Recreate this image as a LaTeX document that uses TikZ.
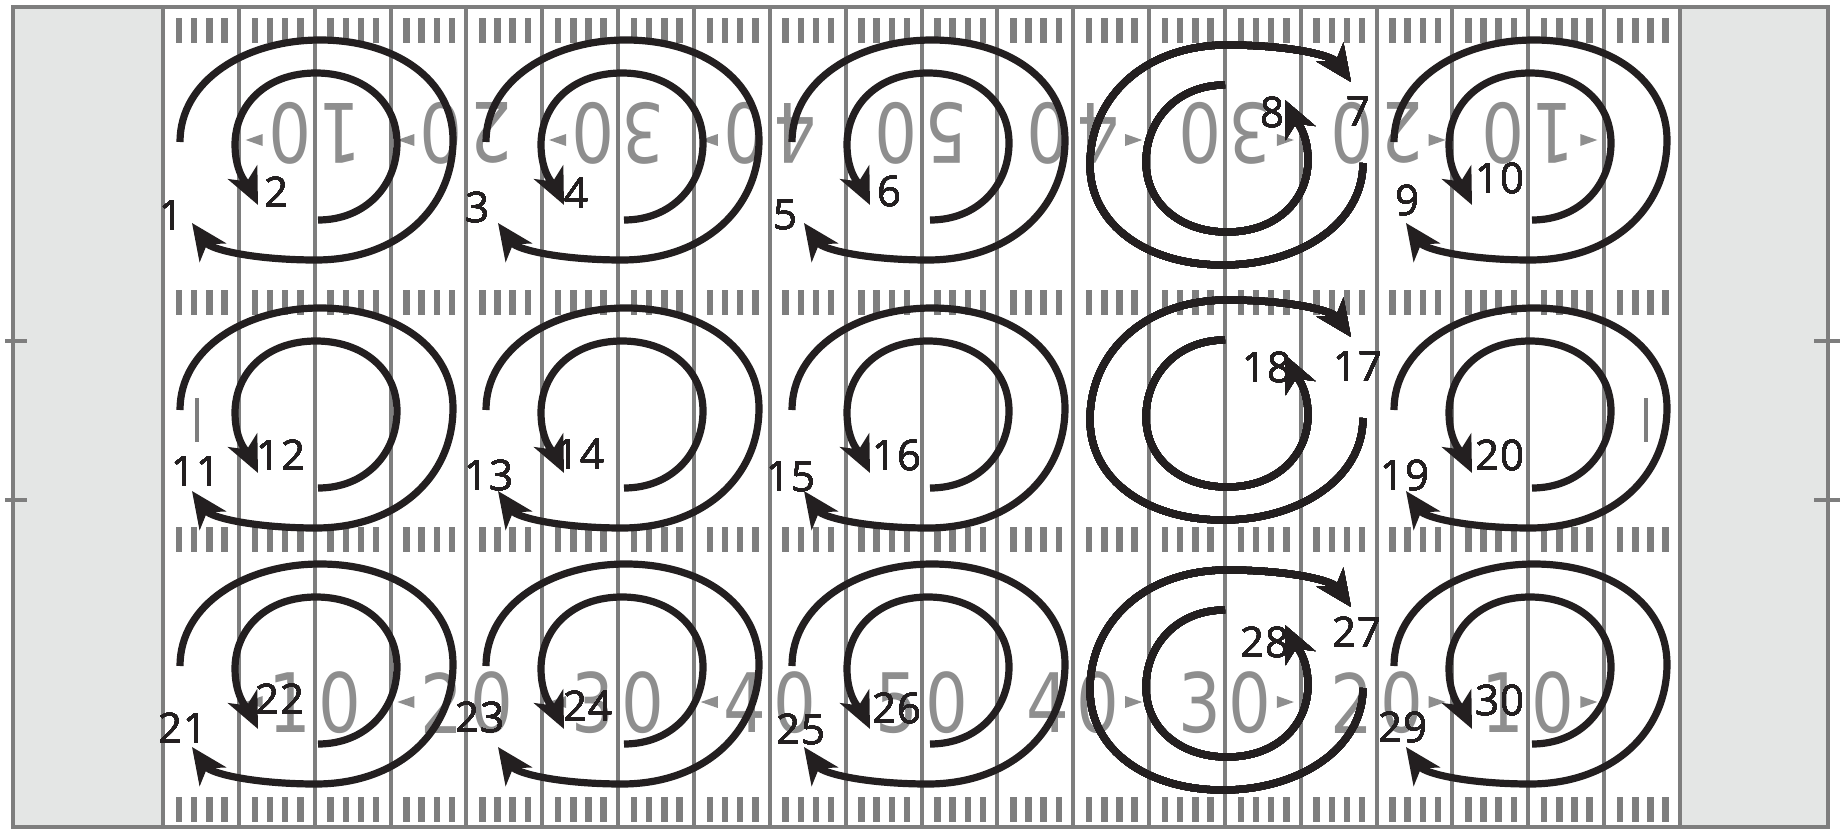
\documentclass[tikz,border=0pt]{standalone}
\usepackage{fontspec}
\setmainfont{Open Sans}
\newfontfamily\yardfont{DejaVu Sans}
\usetikzlibrary{arrows.meta}
\definecolor{fieldgray}{HTML}{7E7E7E}
\definecolor{numgray}{HTML}{8E8E8E}
\definecolor{zonegray}{HTML}{E4E6E5}
\definecolor{ink}{HTML}{231F20}

\newcommand{\swirl}[3]{%
\begin{scope}[shift={(#1,#2)},rotate=#3]
\draw[route] (-136,-8) .. controls (-136,-70) and (-70,-110) .. (4,-110)
  .. controls (80,-110) and (137,-70) .. (137,-10)
  .. controls (137,60) and (80,110) .. (0,110)
  .. controls (-60,110) and (-105,100) .. (-124,73);
\draw[route] (2,70) .. controls (50,70) and (81,35) .. (81,-7)
  .. controls (81,-50) and (45,-77) .. (0,-77)
  .. controls (-50,-77) and (-81,-45) .. (-81,-5)
  .. controls (-81,25) and (-66,38) .. (-58,55);
\end{scope}}

\begin{document}
\begin{tikzpicture}[x=0.5pt,y=-0.5pt,
  route/.style={ink, line width=3.6pt, -{Stealth[length=18pt,width=16pt,inset=5pt]}},
  tag/.style={ink, font=\fontsize{21}{21}\selectfont, inner sep=0pt},
  yardnum/.style={numgray, font=\yardfont\fontsize{41}{41}\selectfont, inner sep=0pt, xscale=0.82}]
\useasboundingbox (0,0) rectangle (1844,830);
\fill[zonegray] (13,7) rectangle (163,827);
\fill[zonegray] (1680,7) rectangle (1828,827);
\foreach \i in {0,...,20}
  \draw[fieldgray, line width=2pt] ({163+75.85*\i},7) -- ({163+75.85*\i},827);
\draw[fieldgray, line width=2pt] (13,7) rectangle (1828,827);
\foreach \y in {341,500} {
  \draw[fieldgray, line width=2pt] (5,\y) -- (27,\y);
  \draw[fieldgray, line width=2pt] (1814,\y) -- (1840,\y);
}
\draw[fieldgray, line width=1.6pt] (197,398) -- (197,442);
\draw[fieldgray, line width=1.6pt] (1646,398) -- (1646,442);
\foreach \i in {0,...,19}
  \foreach \j in {1,...,4}
    \foreach \y in {18,290,527,797}
      \fill[fieldgray] ({163+75.85*\i+15.17*\j-2.5},\y) rectangle ++(6.5,25);
\foreach \i/\a in {2/1,4/2,6/3,8/4,10/5,12/4,14/3,16/2,18/1} {
  \node[yardnum] (bot\i a) at ({163+75.85*\i-25},703) {\a};
  \node[yardnum] (bot\i b) at ({163+75.85*\i+25},703) {0};
  \node[yardnum, rotate=180] (top\i a) at ({163+75.85*\i+25},133) {\a};
  \node[yardnum, rotate=180] (top\i b) at ({163+75.85*\i-25},133) {0};
}
\foreach \i in {2,4,6,8}
  \foreach \y in {140,702}
    \fill[numgray] ({163+75.85*\i-52},\y-6) -- ({163+75.85*\i-69},\y) -- ({163+75.85*\i-52},\y+6) -- cycle;
\foreach \i in {12,14,16,18}
  \foreach \y in {140,702}
    \fill[numgray] ({163+75.85*\i+52},\y-6) -- ({163+75.85*\i+69},\y) -- ({163+75.85*\i+52},\y+6) -- cycle;
\foreach \cx in {316,622,928,1530}
  \foreach \cy in {150,418,674}
    \swirl{\cx}{\cy}{0}
\foreach \cy in {155,410,680}
  \swirl{1227}{\cy}{180}
\foreach \n/\x/\y in {1/172/216, 2/277/192, 3/478/207, 4/577/193, 5/786/215,
  6/890/191, 7/1358/112, 8/1272/112, 9/1407/200, 10/1500/178,
  11/196/472, 12/281/455, 13/489/475, 14/580/454, 15/791/477,
  16/897/455, 17/1358/367, 18/1267/367, 19/1405/475, 20/1500/455,
  21/183/728, 22/280/699, 23/480/717, 24/588/706, 25/801/729,
  26/897/708, 27/1357/632, 28/1265/642, 29/1403/727, 30/1500/700}
  \node[tag] (lab\n) at (\x,\y) {\n};
\end{tikzpicture}
\end{document}
